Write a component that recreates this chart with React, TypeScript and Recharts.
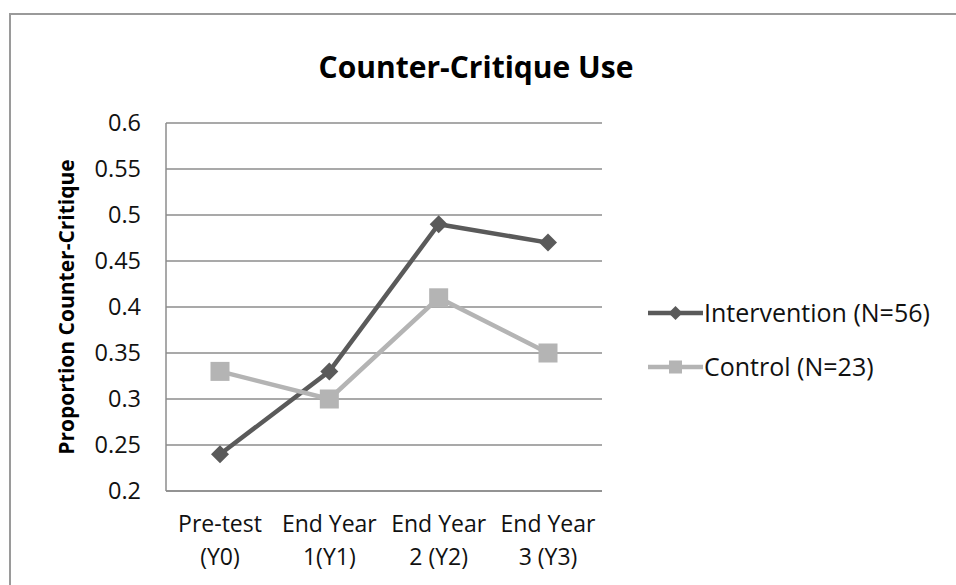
import React from "react";
import { LineChart, Line, XAxis, YAxis, CartesianGrid, Legend } from "recharts";

const categories = ["Pre-test\n(Y0)", "End Year\n1(Y1)", "End Year\n2 (Y2)", "End Year\n3 (Y3)"];
const intervention = [0.24, 0.33, 0.49, 0.47];
const control = [0.33, 0.3, 0.41, 0.35];
const yTicks = [0.2, 0.25, 0.3, 0.35, 0.4, 0.45, 0.5, 0.55, 0.6];
const seriesNames = ["Intervention (N=56)", "Control (N=23)"];

const data = categories.map((c, i) => ({ cat: c, intervention: intervention[i], control: control[i] }));

const FONT = "'Open Sans', Lato, sans-serif";
const DARK = "#5a5a5a";
const LIGHT = "#b4b4b4";
const GRID = "#8c8c8c";

const Diamond = (props: any) => {
  const { cx, cy } = props;
  if (cx == null || cy == null) return null;
  const r = 9;
  return <path d={`M${cx},${cy - r}L${cx + r},${cy}L${cx},${cy + r}L${cx - r},${cy}Z`} fill={DARK} />;
};

const Square = (props: any) => {
  const { cx, cy } = props;
  if (cx == null || cy == null) return null;
  const s = 19;
  return <rect x={cx - s / 2} y={cy - s / 2} width={s} height={s} fill={LIGHT} />;
};

const XTick = (props: any) => {
  const { x, payload } = props;
  const lines = String(payload.value).split("\n");
  return (
    <g>
      {lines.map((l, i) => (
        <text key={i} x={x} y={532 + i * 33} textAnchor="middle" fontFamily={FONT} fontSize={23} fill="#111">
          {l}
        </text>
      ))}
    </g>
  );
};

const YTick = (props: any) => {
  const { y, payload } = props;
  return (
    <text x={141} y={y} dy="0.36em" textAnchor="end" fontFamily={FONT} fontSize={23.5} fill="#111">
      {String(Number(Number(payload.value).toFixed(2)))}
    </text>
  );
};

const LegendContent = () => (
  <svg width={310} height={100}>
    <g>
      <line x1={3} y1={20} x2={58} y2={20} stroke={DARK} strokeWidth={4.5} />
      <path d="M30.5,13L37.5,20L30.5,27L23.5,20Z" fill={DARK} />
      <text x={59} y={20} dy="0.36em" fontFamily={FONT} fontSize={25} fill="#111">{seriesNames[0]}</text>
    </g>
    <g>
      <line x1={3} y1={74} x2={58} y2={74} stroke={LIGHT} strokeWidth={4.5} />
      <rect x={24} y={67.5} width={13} height={13} fill={LIGHT} />
      <text x={59} y={74} dy="0.36em" fontFamily={FONT} fontSize={25} fill="#111">{seriesNames[1]}</text>
    </g>
  </svg>
);

export default function App() {
  return (
    <div style={{ position: "absolute", left: 0, top: 0, width: 956, height: 585, overflow: "hidden", background: "#fff" }}>
      <div
        style={{
          position: "absolute",
          left: 9,
          top: 13,
          width: 1000,
          height: 1000,
          border: "2px solid #9a9a9a",
          boxSizing: "border-box",
        }}
      />
      <div
        style={{
          position: "absolute",
          left: 318,
          top: 45,
          width: 316,
          textAlign: "center",
          whiteSpace: "nowrap",
          fontFamily: FONT,
          fontWeight: 700,
          fontSize: 30,
          lineHeight: "44px",
          color: "#000",
        }}
      >
        Counter-Critique Use
      </div>
      <div style={{ position: "absolute", left: 0, top: 0 }}>
        <LineChart width={956} height={585} data={data} margin={{ top: 123, right: 354, bottom: 0, left: 0 }}>
          <CartesianGrid horizontal vertical={false} stroke={GRID} strokeWidth={1.5} />
          <XAxis
            dataKey="cat"
            height={94}
            tick={<XTick />}
            tickLine={false}
            axisLine={{ stroke: GRID, strokeWidth: 1.5 }}
            interval={0}
            padding={{ left: 54, right: 54 }}
          />
          <YAxis
            domain={[0.2, 0.6]}
            ticks={yTicks}
            width={166}
            tick={<YTick />}
            tickLine={false}
            axisLine={{ stroke: GRID, strokeWidth: 1.5 }}
            label={{
              value: "Proportion Counter-Critique",
              angle: -90,
              position: "insideLeft",
              dx: 62,
              dy: 0,
              style: { fontFamily: FONT, fontWeight: 700, fontSize: 21, fill: "#000", textAnchor: "middle" },
            }}
          />
          <Line
            dataKey="intervention"
            name={seriesNames[0]}
            stroke={DARK}
            strokeWidth={4.5}
            dot={<Diamond />}
            activeDot={false}
            isAnimationActive={false}
          />
          <Line
            dataKey="control"
            name={seriesNames[1]}
            stroke={LIGHT}
            strokeWidth={4.5}
            dot={<Square />}
            activeDot={false}
            isAnimationActive={false}
          />
          <Legend
            layout="horizontal"
            verticalAlign="middle"
            align="center"
            content={<LegendContent />}
            wrapperStyle={{ position: "absolute", left: 645, top: 293, width: 310, height: 100 }}
          />
        </LineChart>
      </div>
    </div>
  );
}
